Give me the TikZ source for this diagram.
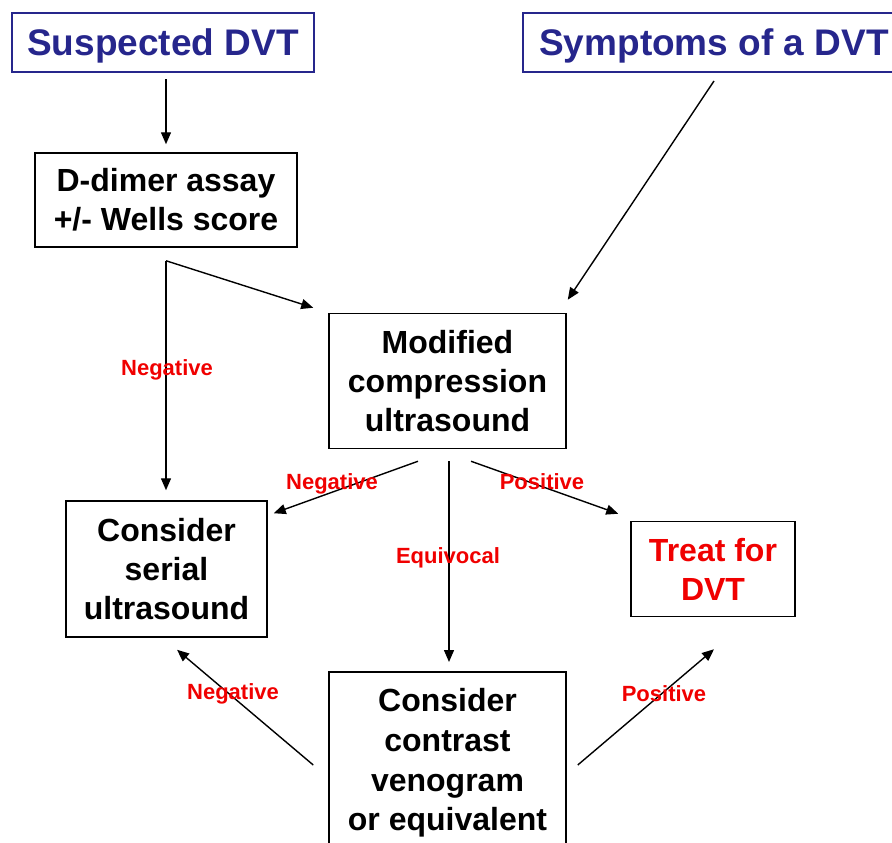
\documentclass[tikz,border=0pt]{standalone}
\usepackage{fontspec}
\setmainfont{Liberation Sans}
\usetikzlibrary{arrows.meta,calc}
\definecolor{navy}{RGB}{38,38,140}
\definecolor{lblred}{RGB}{240,0,0}
\begin{document}
\begin{tikzpicture}[x=1pt,y=-1pt,
  box/.style={draw=black,line width=1.5pt,rectangle,inner sep=0pt,align=center,
    font=\fontsize{32}{39}\selectfont\bfseries},
  topbox/.style={draw=navy,line width=2pt,rectangle,inner sep=0pt,align=center,
    text=navy,text depth=0pt,font=\fontsize{37}{44}\selectfont\bfseries},
  lbl/.style={text=lblred,inner sep=0pt,font=\fontsize{22}{26}\selectfont\bfseries},
  arr/.style={line width=1.4pt,-{Triangle[length=12pt,width=10pt]}}]
\useasboundingbox (0,0) rectangle (892,843);
\clip (0,0) rectangle (892,843);
% nodes
\node[topbox,minimum width=302pt,minimum height=59pt] (sus) at (163,42.5) {Suspected DVT};
\node[topbox,minimum width=382pt,minimum height=59pt] (sym) at (714,42.5) {Symptoms of a DVT};
\node[box,minimum width=262pt,minimum height=94pt] (dd) at (166,200) {D-dimer assay\\+/- Wells score};
\node[box,minimum width=237pt,minimum height=135pt] (mod) at (447.5,381) {Modified\\compression\\ultrasound};
\node[box,minimum width=201pt,minimum height=136pt] (ser) at (166.5,569) {Consider\\serial\\ultrasound};
\node[box,minimum width=164pt,minimum height=95pt,text=lblred] (tr) at (713,569) {Treat for\\DVT};
\node[box,minimum width=237pt,minimum height=180pt,anchor=north] (con) at (447.5,671) {};
\node[align=center,font=\fontsize{32}{39.7}\selectfont\bfseries,inner sep=0pt] (contxt) at (447.5,763)
  {Consider\\contrast\\venogram\\or equivalent};
% coordinates
\coordinate (ddb) at ($(dd.south)+(0,13)$);
% connectors
\draw[arr] ($(dd.north)+(0,-73)$) -- ($(dd.north)+(0,-8)$);
\draw[arr] ($(sym.south)+(0,8)$) -- ($(mod.north east)+(1,-13)$);
\draw[arr] (ddb) -- ($(mod.north west)+(-15,-5)$);
\draw[arr] (ddb) -- ($(ser.north)+(-0.5,-10)$);
\draw[arr] ($(mod.south)+(-29.5,12)$) -- ($(ser.north east)+(6,13)$);
\draw[arr] ($(mod.south)+(23.5,12)$) -- ($(tr.north west)+(-12,-7)$);
\draw[arr] ($(mod.south)+(1.5,12)$) -- ($(con.north)+(1.5,-9)$);
\draw[arr] ($(con.north west)+(-15,94)$) -- ($(ser.south)+(10.5,12)$);
\draw[arr] ($(con.north east)+(11,94)$) -- ($(tr.south)+(1,32)$);
% labels
\node[lbl] (l1) at (167,370) {Negative};
\node[lbl] (l2) at (332,484) {Negative};
\node[lbl] (l3) at (542,482) {Positive};
\node[lbl] (l4) at (448,558) {Equivocal};
\node[lbl] (l5) at (233,694) {Negative};
\node[lbl] (l6) at (664,694) {Positive};
\end{tikzpicture}
\end{document}
